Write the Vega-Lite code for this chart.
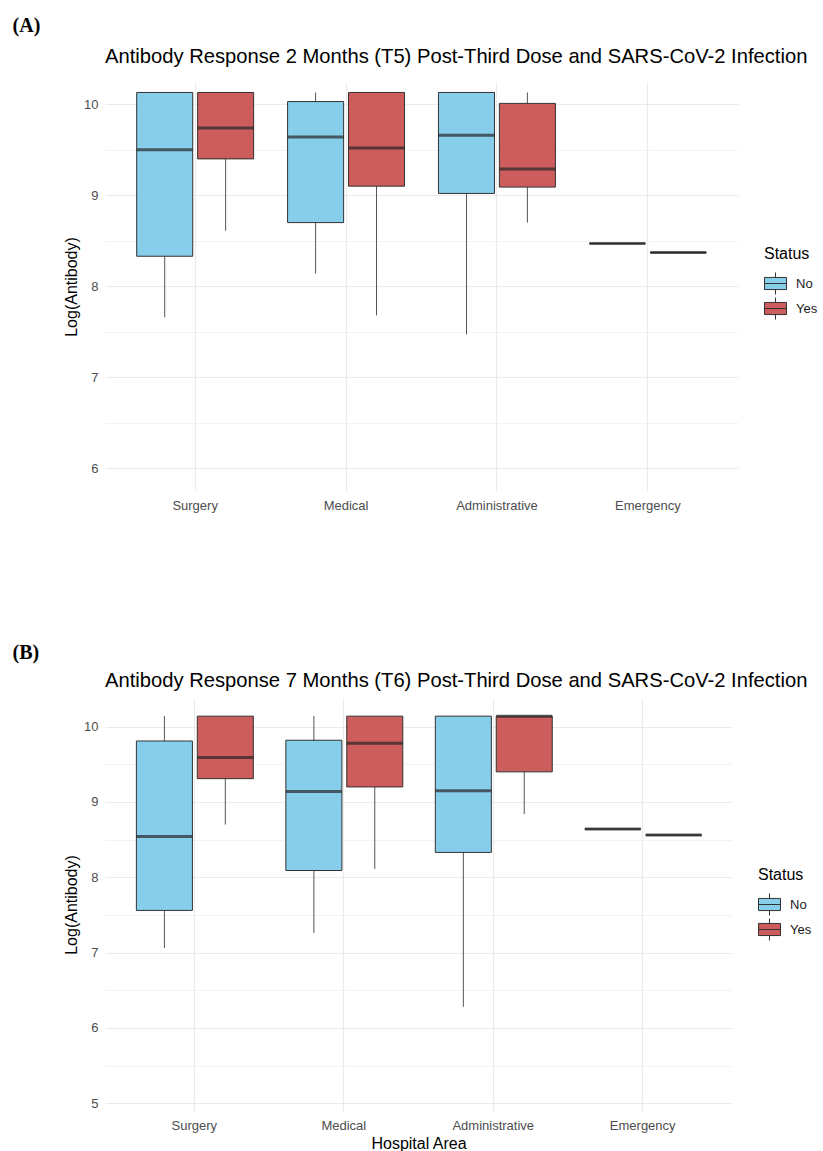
{
  "$schema": "https://vega.github.io/schema/vega-lite/v6.json",
  "background": "white",
  "padding": {"left": 12, "top": 15, "right": 5, "bottom": 0},
  "datasets": {
    "t5": [
      {"area": "Surgery", "status": "No", "lower": 7.66, "q1": 8.33, "median": 9.5, "q3": 10.13, "upper": 10.13},
      {"area": "Surgery", "status": "Yes", "lower": 8.61, "q1": 9.4, "median": 9.74, "q3": 10.13, "upper": 10.13},
      {"area": "Medical", "status": "No", "lower": 8.14, "q1": 8.7, "median": 9.64, "q3": 10.03, "upper": 10.13},
      {"area": "Medical", "status": "Yes", "lower": 7.68, "q1": 9.1, "median": 9.52, "q3": 10.13, "upper": 10.13},
      {"area": "Administrative", "status": "No", "lower": 7.47, "q1": 9.02, "median": 9.66, "q3": 10.13, "upper": 10.13},
      {"area": "Administrative", "status": "Yes", "lower": 8.7, "q1": 9.09, "median": 9.29, "q3": 10.01, "upper": 10.13},
      {"area": "Emergency", "status": "No", "lower": 8.47, "q1": 8.47, "median": 8.47, "q3": 8.47, "upper": 8.47},
      {"area": "Emergency", "status": "Yes", "lower": 8.37, "q1": 8.37, "median": 8.37, "q3": 8.37, "upper": 8.37}
    ],
    "t6": [
      {"area": "Surgery", "status": "No", "lower": 7.06, "q1": 7.56, "median": 8.54, "q3": 9.81, "upper": 10.14},
      {"area": "Surgery", "status": "Yes", "lower": 8.7, "q1": 9.31, "median": 9.59, "q3": 10.14, "upper": 10.14},
      {"area": "Medical", "status": "No", "lower": 7.26, "q1": 8.09, "median": 9.14, "q3": 9.82, "upper": 10.14},
      {"area": "Medical", "status": "Yes", "lower": 8.11, "q1": 9.2, "median": 9.78, "q3": 10.14, "upper": 10.14},
      {"area": "Administrative", "status": "No", "lower": 6.28, "q1": 8.33, "median": 9.15, "q3": 10.14, "upper": 10.14},
      {"area": "Administrative", "status": "Yes", "lower": 8.84, "q1": 9.4, "median": 10.14, "q3": 10.14, "upper": 10.14},
      {"area": "Emergency", "status": "No", "lower": 8.64, "q1": 8.64, "median": 8.64, "q3": 8.64, "upper": 8.64},
      {"area": "Emergency", "status": "Yes", "lower": 8.56, "q1": 8.56, "median": 8.56, "q3": 8.56, "upper": 8.56}
    ]
  },
  "config": {
    "font": "Liberation Sans",
    "view": {"stroke": null},
    "axis": {
      "domain": false, "ticks": false, "tickSize": 0,
      "labelFont": "Liberation Sans", "labelFontSize": 13, "labelColor": "#4d4d4d",
      "titleFont": "Liberation Sans", "titleFontSize": 16, "titleColor": "#000000", "titleFontWeight": "normal",
      "gridColor": "#ebebeb"
    },
    "legend": {
      "titleFont": "Liberation Sans", "titleFontSize": 16, "titleFontWeight": "normal", "titleColor": "#000000", "titlePadding": 10,
      "labelFont": "Liberation Sans", "labelFontSize": 13, "labelColor": "#1a1a1a",
      "symbolType": "M-1,-0.55H1V0.55H-1Z M-1,0H1 M0,-0.55V-1 M0,0.55V1",
      "symbolSize": 484, "symbolStrokeColor": "#333333", "symbolStrokeWidth": 1,
      "rowPadding": -2, "labelOffset": 9, "padding": 0
    },
    "title": {"font": "Liberation Sans", "fontSize": 20.2, "fontWeight": "normal", "color": "#000000", "anchor": "start", "frame": "group", "baseline": "alphabetic"}
  },
  "resolve": {"scale": {"fill": "independent", "x": "independent", "y": "independent"}, "legend": {"fill": "independent"}},
  "spacing": 130,
  "vconcat": [
    {
      "title": {"text": "(A)", "font": "Liberation Serif", "fontWeight": "bold", "fontSize": 20, "anchor": "start", "frame": "bounds", "dx": -51, "offset": -5, "baseline": "alphabetic"},
      "resolve": {"scale": {"fill": "independent"}, "legend": {"fill": "independent"}},
      "vconcat": [
        {
          "width": 633, "height": 409,
          "title": {"text": "Antibody Response 2 Months (T5) Post-Third Dose and SARS-CoV-2 Infection", "offset": 15},
          "data": {"name": "t5"},
          "encoding": {
            "x": {"field": "area", "type": "nominal", "sort": ["Surgery", "Medical", "Administrative", "Emergency"],
                  "scale": {"paddingInner": 0.225, "paddingOuter": 0.21},
                  "axis": {"title": null, "labelAngle": 0, "grid": true, "gridWidth": 1.1, "labelPadding": 8, "bandPosition": 0.5}},
            "xOffset": {"field": "status", "type": "nominal", "sort": ["No", "Yes"], "scale": {"paddingInner": 0.08, "paddingOuter": 0}}
          },
          "layer": [
            {
              "mark": {"type": "rule", "color": "#555555", "strokeWidth": 1},
              "encoding": {
                "y": {"field": "lower", "type": "quantitative", "title": "Log(Antibody)",
                      "scale": {"domain": [5.75, 10.245], "nice": false, "zero": false},
                      "axis": {"values": [6, 6.5, 7, 7.5, 8, 8.5, 9, 9.5, 10], "format": "~g",
                               "labelExpr": "datum.value % 1 === 0 ? datum.label : ''",
                               "grid": true, "gridWidth": {"condition": {"test": "datum.value % 1 === 0", "value": 1.1}, "value": 0.6},
                               "labelPadding": 7, "titlePadding": 4}},
                "y2": {"field": "upper"}
              }
            },
            {
              "mark": {"type": "bar", "stroke": "#333333", "strokeWidth": 1},
              "encoding": {
                "y": {"field": "q1", "type": "quantitative", "title": "Log(Antibody)"},
                "y2": {"field": "q3"},
                "fill": {"field": "status", "type": "nominal", "scale": {"domain": ["No", "Yes"], "range": ["#87CEEB", "#CD5C5C"]},
                         "legend": {"title": "Status", "orient": "none", "legendX": 659, "legendY": 164}}
              }
            },
            {
              "mark": {"type": "tick", "orient": "horizontal", "size": 56, "thickness": 3, "color": "#262626"},
              "encoding": {"y": {"field": "median", "type": "quantitative", "title": "Log(Antibody)"}}
            }
          ]
        }
      ]
    },
    {
      "title": {"text": "(B)", "font": "Liberation Serif", "fontWeight": "bold", "fontSize": 20, "anchor": "start", "frame": "bounds", "dx": -51, "offset": -8, "baseline": "alphabetic"},
      "resolve": {"scale": {"fill": "independent"}, "legend": {"fill": "independent"}},
      "vconcat": [
        {
          "width": 627, "height": 413,
          "title": {"text": "Antibody Response 7 Months (T6) Post-Third Dose and SARS-CoV-2 Infection", "offset": 7},
          "data": {"name": "t6"},
          "encoding": {
            "x": {"field": "area", "type": "nominal", "sort": ["Surgery", "Medical", "Administrative", "Emergency"],
                  "scale": {"paddingInner": 0.225, "paddingOuter": 0.21},
                  "axis": {"title": "Hospital Area", "labelAngle": 0, "grid": true, "gridWidth": 1.1, "labelPadding": 8, "titlePadding": 3, "bandPosition": 0.5}},
            "xOffset": {"field": "status", "type": "nominal", "sort": ["No", "Yes"], "scale": {"paddingInner": 0.08, "paddingOuter": 0}}
          },
          "layer": [
            {
              "mark": {"type": "rule", "color": "#555555", "strokeWidth": 1},
              "encoding": {
                "y": {"field": "lower", "type": "quantitative", "title": "Log(Antibody)",
                      "scale": {"domain": [4.896, 10.381], "nice": false, "zero": false},
                      "axis": {"values": [5, 5.5, 6, 6.5, 7, 7.5, 8, 8.5, 9, 9.5, 10], "format": "~g",
                               "labelExpr": "datum.value % 1 === 0 ? datum.label : ''",
                               "grid": true, "gridWidth": {"condition": {"test": "datum.value % 1 === 0", "value": 1.1}, "value": 0.6},
                               "labelPadding": 7, "titlePadding": 4}},
                "y2": {"field": "upper"}
              }
            },
            {
              "mark": {"type": "bar", "stroke": "#333333", "strokeWidth": 1},
              "encoding": {
                "y": {"field": "q1", "type": "quantitative", "title": "Log(Antibody)"},
                "y2": {"field": "q3"},
                "fill": {"field": "status", "type": "nominal", "scale": {"domain": ["No", "Yes"], "range": ["#87CEEB", "#CD5C5C"]},
                         "legend": {"title": "Status", "orient": "none", "legendX": 653, "legendY": 169}}
              }
            },
            {
              "mark": {"type": "tick", "orient": "horizontal", "size": 56, "thickness": 3, "color": "#262626"},
              "encoding": {"y": {"field": "median", "type": "quantitative", "title": "Log(Antibody)"}}
            }
          ]
        }
      ]
    }
  ]
}
